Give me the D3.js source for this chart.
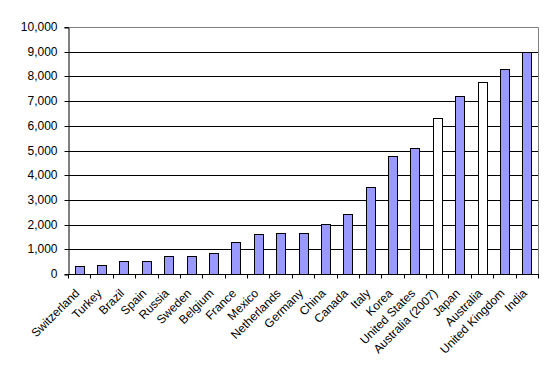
<!DOCTYPE html>
<html>
<head>
<meta charset="utf-8">
<script src="https://cdn.jsdelivr.net/npm/d3@7"></script>
<style>
  html, body { margin: 0; padding: 0; background: #fff; }
  svg { display: block; }
  text { font-family: "Liberation Sans", Arial, sans-serif; fill: #000; }
</style>
</head>
<body>
<svg id="chart" width="555" height="374"></svg>
<script>
const categories = ["Switzerland","Turkey","Brazil","Spain","Russia","Sweden","Belgium","France","Mexico","Netherlands","Germany","China","Canada","Italy","Korea","United States","Australia (2007)","Japan","Australia","United Kingdom","India"];
const values = [320,370,520,520,720,720,850,1290,1610,1650,1680,2010,2420,3510,4770,5090,6320,7200,7770,8300,9000];
const hollowCategories = ["Australia (2007)","Australia"];
const yTicks = [0,1000,2000,3000,4000,5000,6000,7000,8000,9000,10000];

const svg = d3.select("#chart");
const mLeft = 68, mRight = 538, mTop = 27, mBottom = 274;

const x = d3.scaleBand().domain(categories).range([mLeft, mRight]).padding(0);
const y = d3.scaleLinear().domain([0, 10000]).range([mBottom, mTop]);
const fmt = d3.format(",");
const py = v => Math.round(y(v)) + 0.5;

// gridlines
svg.append("g").selectAll("line").data(yTicks.filter(t => t > 0 && t < 10000)).join("line")
  .attr("x1", mLeft).attr("x2", mRight)
  .attr("y1", py).attr("y2", py)
  .attr("stroke", "#000").attr("stroke-width", 1);

// plot border (top/right gray)
svg.append("line").attr("x1", mLeft).attr("x2", mRight + 0.5).attr("y1", py(10000)).attr("y2", py(10000)).attr("stroke", "#808080");
svg.append("line").attr("x1", mRight + 0.5).attr("x2", mRight + 0.5).attr("y1", py(10000)).attr("y2", py(0)).attr("stroke", "#808080");

// bars
const bw = 9;
svg.append("g").selectAll("rect").data(categories).join("rect")
  .attr("x", (d) => Math.round(x(d) + x.bandwidth() / 2 - bw / 2) + 0.5)
  .attr("y", (d, i) => py(values[i]))
  .attr("width", bw)
  .attr("height", (d, i) => py(0) - py(values[i]))
  .attr("fill", d => hollowCategories.includes(d) ? "#ffffff" : "#9999ff")
  .attr("stroke", "#000").attr("stroke-width", 1);

// y axis
const yAxis = svg.append("g").attr("transform", `translate(${mLeft + 0.5},0.5)`)
  .call(d3.axisLeft(y).tickValues(yTicks).tickFormat(fmt).tickSize(4).tickPadding(7));
yAxis.select(".domain").attr("stroke", "#000");
yAxis.selectAll(".tick").attr("transform", d => `translate(0,${Math.round(y(d))})`);
yAxis.selectAll(".tick line").attr("stroke", "#000");
yAxis.selectAll(".tick text").attr("font-size", 12).attr("font-family", '"Liberation Sans", Arial, sans-serif').attr("fill", "#000");

// x axis line
svg.append("line").attr("x1", mLeft).attr("x2", mRight + 1).attr("y1", py(0)).attr("y2", py(0)).attr("stroke", "#000");
// boundary ticks
const bounds = categories.map(c => x(c)).concat([mRight]);
svg.append("g").selectAll("line").data(bounds).join("line")
  .attr("x1", d => Math.round(d) + 0.5).attr("x2", d => Math.round(d) + 0.5)
  .attr("y1", py(0)).attr("y2", py(0) + 4)
  .attr("stroke", "#000");

// x labels
const xAxis = svg.append("g").attr("transform", `translate(0,${mBottom})`)
  .call(d3.axisBottom(x).tickSize(0).tickPadding(0));
xAxis.select(".domain").remove();
xAxis.selectAll(".tick text")
  .attr("font-size", 12).attr("font-family", '"Liberation Sans", Arial, sans-serif').attr("fill", "#000")
  .attr("text-anchor", "end")
  .attr("dy", 0).attr("y", 0)
  .attr("transform", "translate(1,20) rotate(-45)");
</script>
</body>
</html>
